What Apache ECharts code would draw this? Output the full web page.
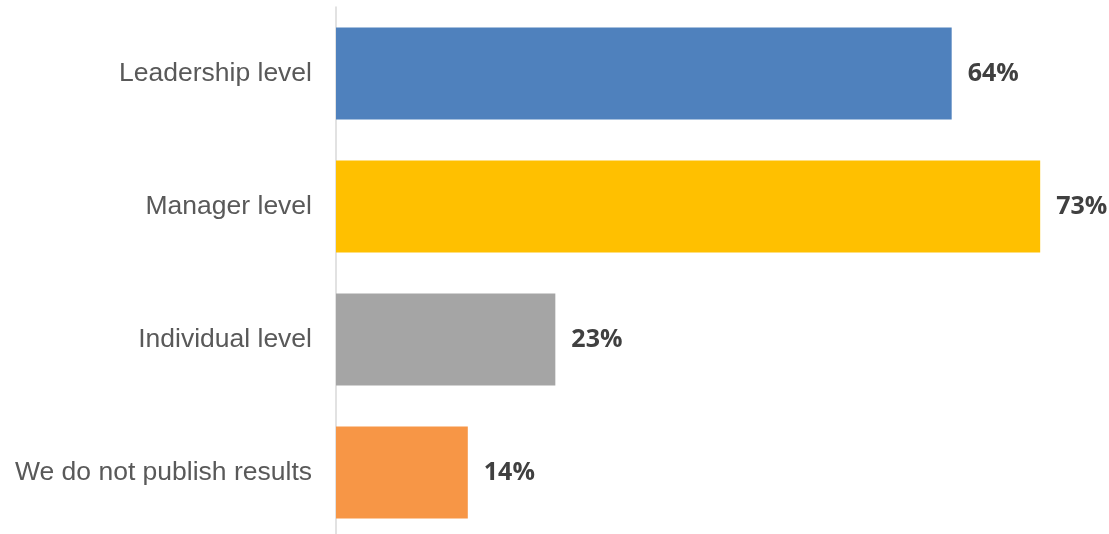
<!DOCTYPE html>
<html>
<head>
<meta charset="utf-8">
<script src="https://cdn.jsdelivr.net/npm/echarts@6/dist/echarts.min.js"></script>
<style>
html,body{margin:0;padding:0;background:#fff;}
#chart{width:1109px;height:534px;}
</style>
</head>
<body>
<div id="chart"></div>
<script>
const categories = ['Leadership level', 'Manager level', 'Individual level', 'We do not publish results'];
const values = [64, 73.2, 22.8, 13.7];
const barColors = ['#4F81BD', '#FFC000', '#A5A5A5', '#F79646'];

const chart = echarts.init(document.getElementById('chart'), null, {renderer: 'canvas'});
chart.setOption({
  animation: false,
  backgroundColor: '#ffffff',
  grid: {left: 336, top: 7, width: 769.6, height: 532, containLabel: false, outerBoundsMode: 'none'},
  xAxis: {
    type: 'value', min: 0, max: 80,
    show: false
  },
  yAxis: {
    type: 'category',
    data: categories,
    inverse: true,
    axisLine: {show: true, lineStyle: {color: '#D9D9D9', width: 1.5}},
    axisTick: {show: false},
    axisLabel: {
      color: '#595959',
      fontFamily: 'Liberation Sans, Arial, sans-serif',
      fontSize: 26.5,
      margin: 24
    }
  },
  series: [{
    type: 'bar',
    data: values.map((v, i) => ({value: v, itemStyle: {color: barColors[i]}})),
    barWidth: 92,
    label: {
      show: true,
      position: 'right',
      distance: 16,
      formatter: p => Math.round(p.value) + '%',
      color: '#404040',
      fontFamily: 'Open Sans, sans-serif',
      fontWeight: 'bold',
      fontSize: 25
    }
  }]
});
</script>
</body>
</html>
